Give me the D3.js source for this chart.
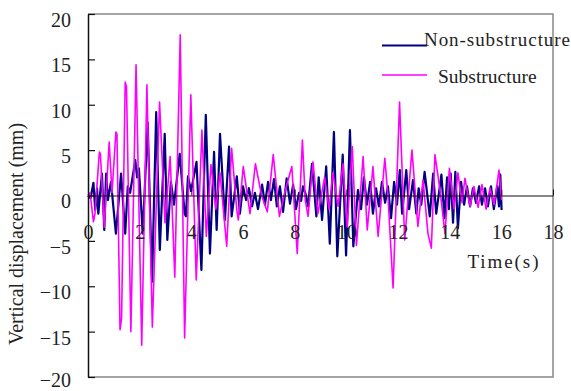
<!DOCTYPE html>
<html>
<head>
<meta charset="utf-8">
<script src="https://cdn.jsdelivr.net/npm/d3@7"></script>
<style>
  html, body { margin: 0; padding: 0; background: #fff; }
  svg { display: block; }
</style>
</head>
<body>
<svg id="chart" width="571" height="391"></svg>
<script>
// Vertical displacement time histories (mm) at turning points of each record
const nonSubTime = [0.00,0.10,0.21,0.28,0.35,0.40,0.54,0.63,0.70,0.77,0.89,1.08,1.28,1.44,1.54,1.63,1.83,1.90,1.97,2.12,
  2.31,2.48,2.64,2.78,2.97,3.07,3.21,3.33,3.55,3.74,3.79,3.87,3.99,4.20,4.39,4.56,4.72,4.88,4.98,5.11,
  5.30,5.46,5.56,5.76,5.88,6.00,6.12,6.23,6.35,6.46,6.58,6.74,6.85,6.97,7.08,7.20,7.31,7.43,7.55,7.69,
  7.82,7.94,8.05,8.17,8.25,8.32,8.42,8.52,8.67,8.84,8.93,9.06,9.22,9.36,9.52,9.65,9.86,9.99,10.14,10.27,
  10.45,10.57,10.68,10.80,10.92,11.03,11.15,11.26,11.38,11.50,11.61,11.73,11.85,11.96,12.07,12.16,12.32,12.43,12.58,12.71,
  12.80,12.90,13.03,13.23,13.36,13.48,13.68,13.80,13.90,13.97,14.04,14.13,14.22,14.32,14.44,14.56,14.67,14.79,14.90,15.02,
  15.14,15.25,15.37,15.48,15.60,15.71,15.84,15.91,15.96,16.01];
const nonSubValue = [0,-0.3,1.4,-1.6,0.8,-2.0,2.4,-3.8,2.4,-0.5,1.5,-4.2,2.4,-4.2,1.0,0.3,3.9,2.0,3.0,-4.2,
  8.0,-9.5,9.2,-6.0,6.8,-4.9,1.5,-1.0,4.6,-2.0,-2.3,2.1,0.5,3.7,-8.2,8.9,-6.4,4.8,-3.8,6.8,
  -2.7,5.4,-2.3,2.1,-2.0,1.0,-0.5,0.8,-1.2,0.3,-1.5,1.2,-1.0,1.5,-0.5,1.8,-1.2,1.0,-1.8,1.9,
  -0.9,1.2,-1.5,0.3,-0.6,1.0,0.2,-1.2,3.5,-2.3,2.0,-2.7,3.2,-5.3,7.0,-6.7,4.5,-6.6,7.2,-5.6,
  0.6,-1.5,2.0,-1.0,1.5,-2.0,0.8,-1.2,1.5,-0.8,1.0,-2.5,1.5,-1.0,2.8,-2.0,2.8,-1.5,1.7,-2.0,
  0.8,-1.0,2.6,-2.3,2.4,-2.0,2.3,-2.5,2.0,-1.5,2.4,-3.0,2.6,-3.6,1.5,-1.0,1.0,-1.2,0.8,-0.8,
  1.0,-1.0,0.8,-1.2,1.0,-1.5,1.0,-1.2,2.3,-1.6];

const subTime = [0.00,0.08,0.21,0.27,0.44,0.48,0.63,0.82,0.93,1.08,1.12,1.24,1.30,1.44,1.49,1.66,1.86,2.08,2.28,2.49,
  2.77,2.98,3.18,3.36,3.57,3.74,3.98,4.19,4.41,4.58,4.76,4.95,5.11,5.37,5.56,5.76,5.82,6.01,6.27,6.48,
  6.72,6.94,7.17,7.41,7.63,7.89,8.10,8.30,8.41,8.52,8.71,8.90,9.16,9.33,9.48,9.68,9.87,10.03,10.23,10.39,
  10.65,10.81,11.03,11.23,11.49,11.61,11.81,12.06,12.26,12.54,12.77,12.97,13.16,13.29,13.43,13.63,13.82,13.99,14.17,14.32,
  14.48,14.59,14.79,14.94,15.10,15.25,15.41,15.56,15.72,15.91,16.01];
const subValue = [0,0.3,-2.9,-2.0,4.8,4.6,-3.5,5.9,0.3,7.0,6.8,-14.8,-13.5,12.5,12.0,-15.0,14.4,-16.5,12.2,-14.5,
  10.3,-3.0,4.3,-9.0,17.7,-15.7,11.1,-9.3,7.2,-4.5,3.4,-1.5,2.5,-5.6,5.2,-1.6,-2.7,3.2,-2.0,3.5,
  0.0,-1.8,4.5,-2.3,0.5,3.2,-6.4,6.1,-0.5,-2.3,3.7,-2.0,2.0,-1.5,2.5,-1.2,3.5,-3.5,5.4,-5.5,
  4.3,-3.8,3.2,-4.5,4.1,0.0,-10.2,10.3,-4.9,5.0,-3.4,1.7,-4.2,-5.8,4.5,0.5,-4.2,3.0,-1.5,2.5,
  -0.8,1.9,-1.2,1.0,-1.3,1.2,-1.5,0.8,-1.0,2.8,-0.5];

const xTicks = [0, 2, 4, 6, 8, 10, 12, 14, 16, 18];
const yTicks = [-20, -15, -10, -5, 0, 5, 10, 15, 20];
const seriesNames = ["Non-substructure", "Substructure"];
const seriesColors = ["#000080", "#ff00ff"];

const serif = '"Liberation Serif", "Times New Roman", Times, "DejaVu Serif", serif';
const textColor = "#222";

const svg = d3.select("#chart");
const plotLeft = 88, plotRight = 553, plotTop = 14, plotBottom = 377;

const x = d3.scaleLinear().domain([0, 18]).range([plotLeft, plotRight]);
const y = d3.scaleLinear().domain([-20, 20]).range([plotBottom, plotTop]);

// frame (grey) on top, right and bottom
svg.append("path")
  .attr("d", `M${plotLeft},${plotTop}H${plotRight}V${plotBottom}H${plotLeft}`)
  .attr("fill", "none").attr("stroke", "#888").attr("stroke-width", 1.5);

// series
const line = d3.line().x(d => x(d[0])).y(d => y(d[1]));
const series = [
  d3.zip(nonSubTime, nonSubValue),
  d3.zip(subTime, subValue)
];
const widths = [2.2, 1.6];
series.forEach((pts, i) => {
  svg.append("path")
    .datum(pts)
    .attr("d", line)
    .attr("fill", "none")
    .attr("stroke", seriesColors[i])
    .attr("stroke-width", widths[i])
    .attr("stroke-linejoin", "round");
});

// y axis with inward ticks
const yAxis = svg.append("g")
  .attr("transform", `translate(${plotLeft},0)`)
  .call(d3.axisLeft(y).tickValues(yTicks).tickSize(-7).tickSizeOuter(0).tickPadding(17)
    .tickFormat(d => d < 0 ? "\u2212" + Math.abs(d) : String(d)));
yAxis.select(".domain").attr("stroke", "#111").attr("stroke-width", 1.5);
yAxis.selectAll(".tick line").attr("stroke", "#111").attr("stroke-width", 1.2);
yAxis.selectAll("text")
  .style("font-family", serif).style("font-size", "20px")
  .attr("fill", textColor).attr("y", d => d === -20 ? 3.5 : 6);

// x axis along the zero line, ticks pointing up
const xAxis = svg.append("g")
  .attr("transform", `translate(0,${y(0)})`)
  .call(d3.axisBottom(x).tickValues(xTicks).tickSize(-6).tickSizeOuter(0).tickPadding(29));
xAxis.select(".domain").attr("stroke", "#111").attr("stroke-width", 1.2);
xAxis.selectAll(".tick line").attr("stroke", "#111");
xAxis.selectAll("text")
  .style("font-family", serif).style("font-size", "20px")
  .attr("fill", textColor);

// axis titles
svg.append("text")
  .attr("x", 503).attr("y", 268)
  .attr("text-anchor", "middle")
  .style("font-family", serif).style("font-size", "19px")
  .attr("fill", textColor)
  .attr("textLength", 71).attr("lengthAdjust", "spacing")
  .text("Time(s)");

svg.append("text")
  .attr("transform", `translate(23,234) rotate(-90)`)
  .attr("text-anchor", "middle")
  .style("font-family", serif).style("font-size", "20px")
  .attr("fill", textColor)
  .text("Vertical displacement (mm)");

// legend
const legendY = [45.5, 75];
seriesNames.forEach((name, i) => {
  svg.append("line")
    .attr("x1", 382).attr("x2", 427)
    .attr("y1", legendY[i]).attr("y2", legendY[i])
    .attr("stroke", seriesColors[i]).attr("stroke-width", i === 0 ? 2.2 : 1.6);
});
svg.append("text")
  .attr("x", 424).attr("y", 46)
  .style("font-family", serif).style("font-size", "19px")
  .attr("fill", textColor)
  .attr("textLength", 146).attr("lengthAdjust", "spacing")
  .text(seriesNames[0]);
svg.append("text")
  .attr("x", 438).attr("y", 82.5)
  .style("font-family", serif).style("font-size", "19.5px")
  .attr("fill", textColor)
  .text(seriesNames[1]);
</script>
</body>
</html>
